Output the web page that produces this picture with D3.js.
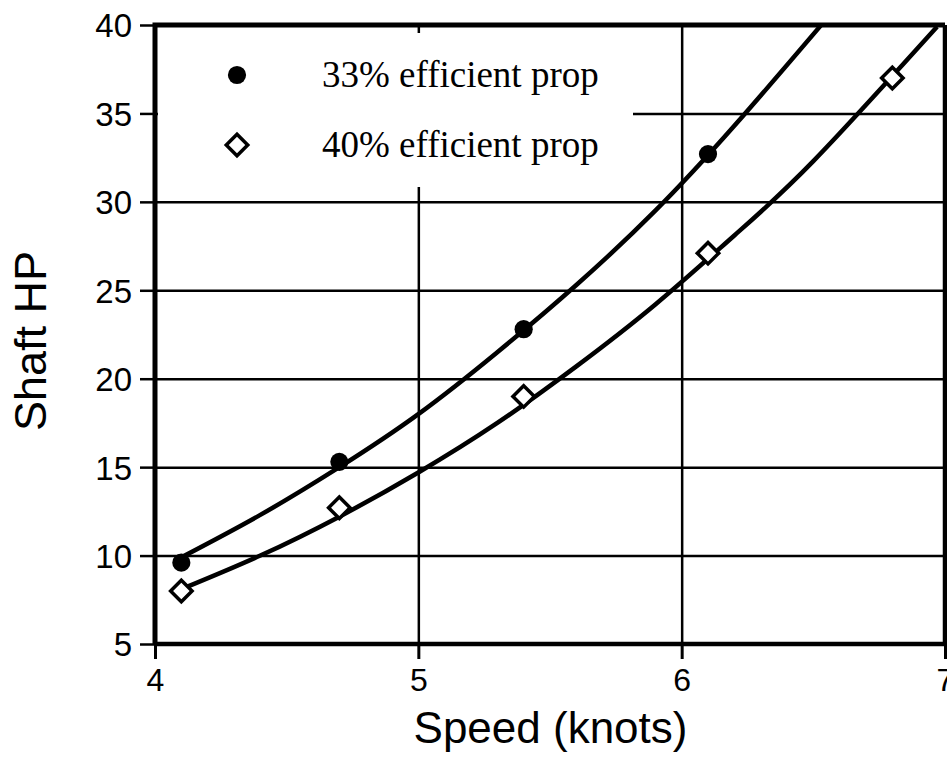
<!DOCTYPE html>
<html>
<head>
<meta charset="utf-8">
<script src="https://cdn.jsdelivr.net/npm/d3@7"></script>
<style>
  html, body { margin: 0; padding: 0; background: #fff; overflow: hidden; }
  .tick text { font-family: "Liberation Sans", Arial, sans-serif; }
</style>
</head>
<body>
<div id="chart"></div>
<script>
//-----------------------------DATA-----------------------------//
const speeds = [4.1, 4.7, 5.4, 6.1, 6.8];
const hp33 = [9.6, 15.3, 22.8, 32.7];
const hp40 = [8.0, 12.7, 19.0, 27.1, 37.0];

// fitted lines
const fitSpeeds33 = [4.1, 4.4, 4.7, 5.0, 5.3, 5.6, 5.9, 6.2, 6.53];
const fitHp33 = [9.9, 12.3, 15.0, 18.0, 21.5, 25.3, 29.5, 34.3, 40.0];
const fitSpeeds40 = [4.1, 4.4, 4.7, 5.0, 5.3, 5.6, 5.9, 6.2, 6.5, 6.97];
const fitHp40 = [8.1, 10.0, 12.2, 14.7, 17.5, 20.7, 24.2, 28.1, 32.3, 39.9];

const xTicks = [4, 5, 6, 7];
const yTicks = [5, 10, 15, 20, 25, 30, 35, 40];
const legendLabels = ["33% efficient prop", "40% efficient prop"];

//------------------------1. PREPARATION------------------------//
const width = 947;
const height = 764;
const plotLeft = 155, plotRight = 945, plotTop = 25, plotBottom = 644;

const svg = d3.select("#chart")
    .append("svg")
    .attr("width", width)
    .attr("height", height);

const xScale = d3.scaleLinear().domain([4, 7]).range([plotLeft, plotRight]);
const yScale = d3.scaleLinear().domain([5, 40]).range([plotBottom, plotTop]);

const line = d3.line()
    .x(function(d) { return xScale(d[0]); })
    .y(function(d) { return yScale(d[1]); })
    .curve(d3.curveNatural);

const series33 = hp33.map(function(v, i) { return [speeds[i], v]; });
const series40 = hp40.map(function(v, i) { return [speeds[i], v]; });
const fit33 = fitHp33.map(function(v, i) { return [fitSpeeds33[i], v]; });
const fit40 = fitHp40.map(function(v, i) { return [fitSpeeds40[i], v]; });

svg.append("clipPath")
    .attr("id", "plot-clip")
    .append("rect")
    .attr("x", plotLeft)
    .attr("y", plotTop)
    .attr("width", plotRight - plotLeft)
    .attr("height", plotBottom - plotTop);

//-------------------------2. DRAWING---------------------------//
//-----------------------------GRID-----------------------------//
svg.append("g")
    .attr("transform", "translate(" + plotLeft + ",0)")
    .call(d3.axisRight(yScale).tickValues(yTicks).tickSize(plotRight - plotLeft).tickFormat(""))
    .call(function(g) { g.select(".domain").remove(); })
    .selectAll("line")
    .attr("stroke", "#000")
    .attr("stroke-width", 2.5);

svg.append("g")
    .attr("transform", "translate(0," + plotTop + ")")
    .call(d3.axisBottom(xScale).tickValues([5, 6]).tickSize(plotBottom - plotTop).tickFormat(""))
    .call(function(g) { g.select(".domain").remove(); })
    .selectAll("line")
    .attr("stroke", "#000")
    .attr("stroke-width", 2.5);

//----------------------------LEGEND----------------------------//
// white box hides the grid behind the legend
svg.append("rect")
    .attr("x", plotLeft + 3)
    .attr("y", plotTop + 8)
    .attr("width", 633 - plotLeft - 3)
    .attr("height", 187 - plotTop - 8)
    .attr("fill", "#fff");

const symCircle = d3.symbol().type(d3.symbolCircle).size(260);
const symSquare = d3.symbol().type(d3.symbolSquare).size(230);

const legend = svg.append("g");
legendLabels.forEach(function(label, i) {
    const ly = 75 + i * 70;
    if (i === 0) {
        legend.append("path")
            .attr("d", symCircle())
            .attr("transform", "translate(237," + ly + ")")
            .attr("fill", "#000");
    } else {
        legend.append("path")
            .attr("d", symSquare())
            .attr("transform", "translate(237," + ly + ") rotate(45)")
            .attr("fill", "#fff")
            .attr("stroke", "#000")
            .attr("stroke-width", 3.5);
    }
    legend.append("text")
        .attr("x", 322)
        .attr("y", ly + 12)
        .style("font-family", "'Liberation Serif', 'Times New Roman', serif")
        .style("font-size", "37px")
        .text(label);
});

//----------------------------LINES-----------------------------//
const curves = svg.append("g").attr("clip-path", "url(#plot-clip)");
[fit33, fit40].forEach(function(f) {
    curves.append("path")
        .attr("d", line(f))
        .attr("fill", "none")
        .attr("stroke", "#000")
        .attr("stroke-width", 4.5);
});

//----------------------------POINTS----------------------------//
svg.selectAll(".p33")
    .data(series33)
    .enter()
    .append("path")
    .attr("class", "p33")
    .attr("d", symCircle())
    .attr("transform", function(d) { return "translate(" + xScale(d[0]) + "," + yScale(d[1]) + ")"; })
    .attr("fill", "#000");

svg.selectAll(".p40")
    .data(series40)
    .enter()
    .append("path")
    .attr("class", "p40")
    .attr("d", symSquare())
    .attr("transform", function(d) { return "translate(" + xScale(d[0]) + "," + yScale(d[1]) + ") rotate(45)"; })
    .attr("fill", "#fff")
    .attr("stroke", "#000")
    .attr("stroke-width", 3.5);

//-----------------------------AXES-----------------------------//
const yaxis = svg.append("g")
    .attr("transform", "translate(" + plotLeft + ",0)")
    .call(d3.axisLeft(yScale).tickValues(yTicks).tickSize(15).tickPadding(8).tickFormat(d3.format("d")));
yaxis.select(".domain").remove();
yaxis.selectAll("line").attr("stroke", "#000").attr("stroke-width", 2.5);
yaxis.selectAll("text").attr("fill", "#000").style("font-size", "33px").attr("dy", "0.36em");

const xaxis = svg.append("g")
    .attr("transform", "translate(0," + plotBottom + ")")
    .call(d3.axisBottom(xScale).tickValues(xTicks).tickSize(15).tickPadding(4).tickFormat(d3.format("d")));
xaxis.select(".domain").remove();
xaxis.selectAll("line").attr("stroke", "#000").attr("stroke-width", 3);
xaxis.selectAll("text").attr("fill", "#000").style("font-size", "32px").attr("dy", "0.88em");

// frame
svg.append("path")
    .attr("d", "M" + plotLeft + "," + plotBottom + "V" + plotTop + "H" + plotRight)
    .attr("fill", "none")
    .attr("stroke", "#000")
    .attr("stroke-width", 5);
svg.append("path")
    .attr("d", "M" + plotLeft + "," + plotBottom + "H" + plotRight + "V" + plotTop)
    .attr("fill", "none")
    .attr("stroke", "#000")
    .attr("stroke-width", 4.5);

//----------------------------TITLES----------------------------//
svg.append("text")
    .attr("x", (413 + 688) / 2)
    .attr("y", 743)
    .attr("text-anchor", "middle")
    .style("font-family", "'Liberation Sans', Arial, sans-serif")
    .style("font-size", "44px")
    .text("Speed (knots)");

svg.append("text")
    .attr("transform", "translate(46,341) rotate(-90)")
    .attr("text-anchor", "middle")
    .style("font-family", "'Liberation Sans', Arial, sans-serif")
    .style("font-size", "45px")
    .text("Shaft HP");
</script>
</body>
</html>
